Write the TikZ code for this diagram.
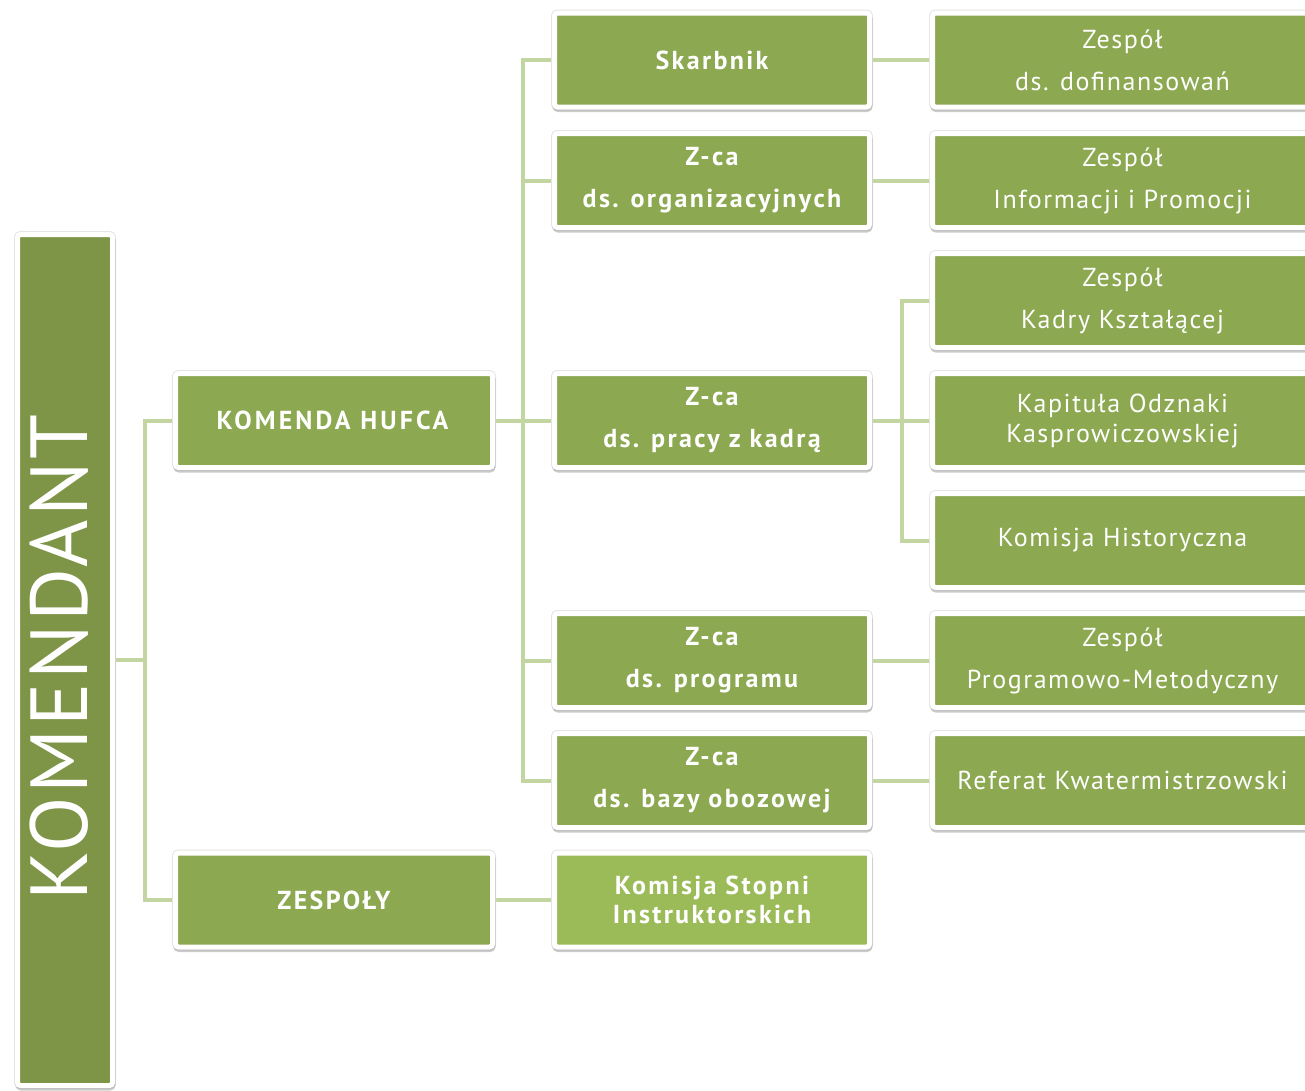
\documentclass[tikz,border=0pt]{standalone}
\usepackage{fontspec}
\setmainfont{PT Sans}
\newfontfamily\rfont[LetterSpace=6]{PT Sans}
\newfontfamily\bfont[LetterSpace=9]{PT Sans}
\newfontfamily\capsfont[LetterSpace=12]{PT Sans}
\newfontfamily\komfont[LetterSpace=4]{PT Sans}
\usetikzlibrary{shadows,backgrounds}
\definecolor{boxgreen}{HTML}{8CA851}
\definecolor{darkgreen}{HTML}{7E9447}
\definecolor{lightgreen}{HTML}{9BBB59}
\definecolor{linegreen}{HTML}{C3D6A1}
\tikzset{
  base/.style={rectangle, rounded corners=3pt, draw=white, line width=5pt, text=white, align=center, inner sep=0pt,
    preaction={draw=black!10, line width=7pt},
    general shadow={shadow xshift=0.5pt, shadow yshift=-2.5pt, draw=black!45, fill=black!45,
      line width=5pt, opacity=0.45}},
  leftbox/.style={base, fill=boxgreen, minimum width=317pt, minimum height=94pt,
    font=\capsfont\bfseries\fontsize{26}{42}\selectfont},
  midbox/.style={base, fill=boxgreen, minimum width=315pt, minimum height=94pt,
    font=\bfont\bfseries\fontsize{26}{42}\selectfont},
  rightbox/.style={base, fill=boxgreen, minimum width=380pt, minimum height=94pt,
    font=\rfont\fontsize{26}{42}\selectfont},
  tight/.style={font=\rfont\fontsize{26}{30}\selectfont},
  tightbold/.style={font=\bfont\bfseries\fontsize{26}{29}\selectfont},
  komtext/.style={text=white, rotate=90, inner sep=0pt, font=\komfont\fontsize{81}{81}\selectfont},
  conn/.style={draw=linegreen, line width=4pt}
}
\begin{document}
\begin{tikzpicture}[x=1pt, y=-1pt]
\useasboundingbox (0,0) rectangle (1305,1090);
\begin{scope}
\clip (0,0) rectangle (1305,1090);
% root
\node[base, fill=darkgreen, minimum width=95pt, minimum height=851pt] (kom) at (65,660) {};
\node[komtext] (komlabel) at (59,657.5) {KOMENDANT};
% left column
\node[leftbox, font=\capsfont\fontsize{26}{42}\selectfont] (hufca) at (334,420.5) {\textbf{KOMENDA HUFCA}};
\node[leftbox, font=\bfont\bfseries\fontsize{26}{42}\selectfont] (zesp) at (334,900) {ZESPOŁY};
% middle column
\node[midbox] (skarb) at (712,60) {Skarbnik};
\node[midbox] (org) at (712,180.5) {Z-ca\\ds. organizacyjnych};
\node[midbox] (kadra) at (712,420.5) {Z-ca\\ds. pracy z kadrą};
\node[midbox] (prog) at (712,660.5) {Z-ca\\ds. programu};
\node[midbox] (baza) at (712,780.5) {Z-ca\\ds. bazy obozowej};
\node[midbox, tightbold, fill=lightgreen] (kspi) at (712,900) {Komisja Stopni\\Instruktorskich};
% right column
\node[rightbox] (dof) at (1122.5,60) {Zespół\\ds. dofinansowań};
\node[rightbox] (info) at (1122.5,180.5) {Zespół\\Informacji i Promocji};
\node[rightbox] (ksz) at (1122.5,300.5) {Zespół\\Kadry Kształącej};
\node[rightbox, tight] (kap) at (1122.5,420.5) {Kapituła Odznaki\\Kasprowiczowskiej};
\node[rightbox] (hist) at (1122.5,540.5) {Komisja Historyczna};
\node[rightbox] (pm) at (1122.5,660.5) {Zespół\\Programowo-Metodyczny};
\node[rightbox] (kw) at (1122.5,780.5) {Referat Kwatermistrzowski};
% connectors
\coordinate (b1) at (145,660);
\coordinate (b2) at (523,420.5);
\coordinate (b3) at (902,420.5);
\begin{scope}[on background layer]
\draw[conn] (kom.east) -- (b1);
\draw[conn] (hufca.west) -| (b1);
\draw[conn] (zesp.west) -| (b1);
\draw[conn] (hufca.east) -- (b2);
\draw[conn] (skarb.west) -| (b2);
\draw[conn] (org.west) -| (b2);
\draw[conn] (kadra.west) -- (b2);
\draw[conn] (prog.west) -| (b2);
\draw[conn] (baza.west) -| (b2);
\draw[conn] (zesp.east) -- (kspi.west);
\draw[conn] (skarb.east) -- (dof.west);
\draw[conn] (org.east) -- (info.west);
\draw[conn] (kadra.east) -- (b3);
\draw[conn] (ksz.west) -| (b3);
\draw[conn] (kap.west) -- (b3);
\draw[conn] (hist.west) -| (b3);
\draw[conn] (prog.east) -- (pm.west);
\draw[conn] (baza.east) -- (kw.west);
\end{scope}
\end{scope}
\end{tikzpicture}
\end{document}
